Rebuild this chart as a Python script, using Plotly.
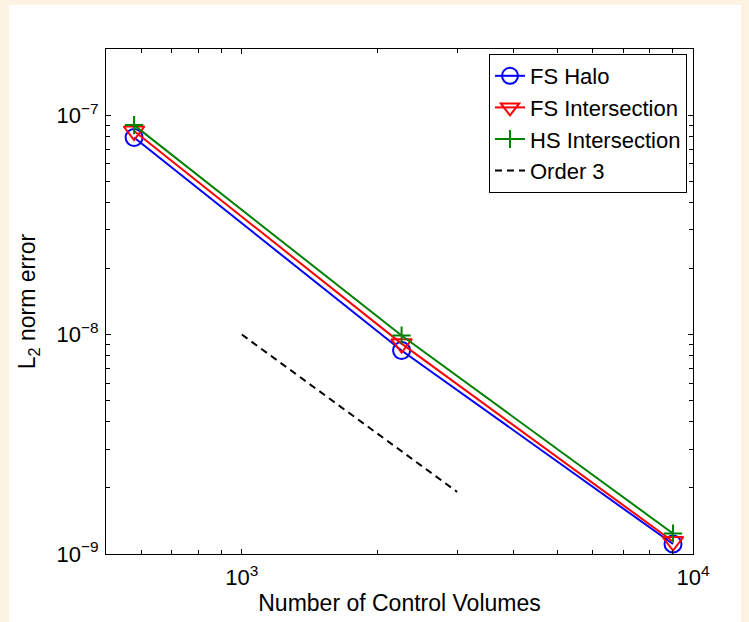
import math
import plotly.graph_objects as go

# Convergence data: number of control volumes vs L2 error
control_volumes = [577, 2260, 9030]
fs_halo = [7.9e-8, 8.46e-9, 1.11e-9]
fs_intersection = [8.46e-8, 9.09e-9, 1.14e-9]
hs_intersection = [9.0e-8, 9.9e-9, 1.24e-9]

# Reference slope line
order3_x = [1000, 3000]
order3_y = [1.0e-8, 1.92e-9]

x_major = [1e3, 1e4]
x_major_text = ["10<sup>3</sup>", "10<sup>4</sup>"]
y_major = [1e-9, 1e-8, 1e-7]
y_major_text = ["10<sup>\u22129</sup>", "10<sup>\u22128</sup>", "10<sup>\u22127</sup>"]

FONT = "Liberation Sans, Arial, Helvetica, sans-serif"

# minor tick positions at 2..9 within each decade
x_minor = [m * 10 ** e for e in (2, 3) for m in range(2, 10) if 500 <= m * 10 ** e <= 1e4]
y_minor = [m * 10 ** e for e in (-9, -8, -7) for m in range(2, 10) if m * 10 ** e <= 2e-7]

fig = go.Figure()
fig.add_trace(go.Scatter(
    x=control_volumes, y=fs_halo, name="FS Halo", mode="lines+markers",
    line=dict(color="#0000FF", width=2),
    marker=dict(symbol="circle-open", size=17, color="#0000FF", line=dict(width=2, color="#0000FF")),
))
fig.add_trace(go.Scatter(
    x=control_volumes, y=fs_intersection, name="FS Intersection", mode="lines+markers",
    line=dict(color="#FF0000", width=2),
    marker=dict(symbol="triangle-down-open", size=18, color="#FF0000", line=dict(width=2, color="#FF0000")),
))
fig.add_trace(go.Scatter(
    x=control_volumes, y=hs_intersection, name="HS Intersection", mode="lines+markers",
    line=dict(color="#008000", width=2),
    marker=dict(symbol="cross-thin", size=13, color="#008000", line=dict(width=2, color="#008000")),
))
fig.add_trace(go.Scatter(
    x=order3_x, y=order3_y, name="Order 3", mode="lines",
    line=dict(color="black", width=2, dash="7px,5px"),
))

# white figure panel on the cream page
L, R, T, B = 106, 693, 49, 554
W, H = 749, 622
pw, ph = R - L, B - T
fig.add_shape(
    type="rect", xref="paper", yref="paper", layer="below",
    x0=(9 - L) / pw, x1=(741 - L) / pw,
    y0=(B - 640) / ph, y1=(B - 5) / ph,
    fillcolor="white", line=dict(width=0),
)

axis_common = dict(
    showline=True, linecolor="black", linewidth=1, mirror="ticks",
    ticks="inside", ticklen=5, tickwidth=1, tickcolor="black",
    showgrid=False, zeroline=False, automargin=False,
    tickfont=dict(family=FONT, size=22, color="black"),
    tickmode="array",
)

fig.update_xaxes(
    type="log", range=[math.log10(500), 4],
    tickvals=x_major, ticktext=x_major_text, ticklabelstandoff=4,
    minor=dict(tickmode="array", tickvals=x_minor, ticks="inside", ticklen=4,
               tickwidth=1, tickcolor="black", showgrid=False),
    title=dict(text="Number of Control Volumes", font=dict(family=FONT, size=23, color="black"), standoff=5),
    **axis_common,
)
fig.update_yaxes(
    type="log", range=[-9, math.log10(2e-7)],
    tickvals=y_major, ticktext=y_major_text, ticklabelstandoff=2,
    minor=dict(tickmode="array", tickvals=y_minor, ticks="inside", ticklen=4,
               tickwidth=1, tickcolor="black", showgrid=False),
    title=dict(text="L<sub>2</sub> norm error", font=dict(family=FONT, size=23, color="black"), standoff=14),
    **axis_common,
)

fig.update_layout(
    width=W, height=H,
    margin=dict(l=L, r=W - R, t=T, b=H - B, pad=0, autoexpand=False),
    paper_bgcolor="#FDF3E3",
    plot_bgcolor="white",
    font=dict(family=FONT, color="black"),
    legend=dict(
        x=(687 - L) / pw, y=(B - 54) / ph, xanchor="right", yanchor="top",
        bgcolor="white", bordercolor="black", borderwidth=1,
        font=dict(family=FONT, size=22, color="black"),
        tracegroupgap=0, itemwidth=30,
    ),
    showlegend=True,
)

fig.write_html("out.html")
